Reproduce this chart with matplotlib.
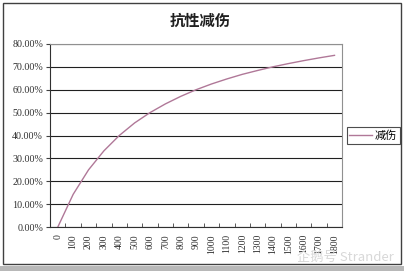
import matplotlib
matplotlib.use("Agg")
import matplotlib.pyplot as plt
from matplotlib.patches import Rectangle

plt.rcParams['font.family'] = ['Noto Sans CJK SC', 'DejaVu Sans']

# resistance values (x categories) and damage reduction
resistLabels = ['0', '100', '200', '300', '400', '500', '600', '700', '800', '900',
                '1000', '1100', '1200', '1300', '1400', '1500', '1600', '1700', '1800']
reduction = [0.0, 14.3, 25.0, 33.3, 40.0, 45.5, 50.0, 53.8, 57.1, 60.0,
             62.5, 64.7, 66.7, 68.4, 70.0, 71.4, 72.7, 73.9, 75.0]
yTicks = [0, 10, 20, 30, 40, 50, 60, 70, 80]
seriesName = '减伤'
title = '抗性减伤'

fig = plt.figure(figsize=(4.04, 2.71), dpi=100)
ax = fig.add_axes([0.124, 0.162, 0.723, 0.676])

xs = list(range(len(reduction)))
line, = ax.plot(xs, reduction, color='#b07898', lw=1.0, label=seriesName)

ax.set_xlim(-0.5, len(reduction) - 0.5)
ax.set_ylim(0, 80)
ax.set_yticks(yTicks)
ax.set_yticklabels(['%.2f%%' % v for v in yTicks])
ax.yaxis.grid(True, color='#202020', lw=0.8)
ax.set_axisbelow(True)

# category axis: labels at centres, tick marks between categories
ax.set_xticks(xs)
ax.set_xticklabels(resistLabels, rotation=90)
ax.set_xticks([x + 0.5 for x in xs[:-1]], minor=True)
ax.tick_params(axis='x', which='major', length=0, pad=5, labelsize=7)
ax.tick_params(axis='x', which='minor', length=3, direction='in', color='#404040')
ax.tick_params(axis='y', length=3, labelsize=7.2, color='#404040', pad=2)
for lbl in ax.get_xticklabels() + ax.get_yticklabels():
    lbl.set_family(['Liberation Serif', 'DejaVu Serif'])
    lbl.set_color('#303030')

for side in ('left', 'bottom'):
    ax.spines[side].set_color('#303030')
for side in ('top', 'right'):
    ax.spines[side].set_color('#909090')

fig.text(0.495, 0.925, title, ha='center', va='center', fontsize=11, weight='bold', color='#202020')

leg = ax.legend(loc='center left', bbox_to_anchor=(1.015, 0.5), frameon=True, fancybox=False,
                fontsize=8, handlelength=2.0, handletextpad=0.3, borderpad=0.25, borderaxespad=0)
leg.get_frame().set_edgecolor('#202020')
leg.get_frame().set_linewidth(0.8)

# outer chart border and bottom strip
fig.patches.append(Rectangle((0.008, 0.027), 0.985, 0.962, transform=fig.transFigure,
                             fill=False, edgecolor='#404040', lw=1.0))
fig.patches.append(Rectangle((0, 0), 1, 0.02, transform=fig.transFigure,
                             facecolor='#b8b8b8', edgecolor='none'))

fig.text(0.975, 0.05, '企鹅号 Strander', ha='right', va='center', fontsize=9.5, color='#d8d8d8')

fig.savefig('out.png', dpi=100)
